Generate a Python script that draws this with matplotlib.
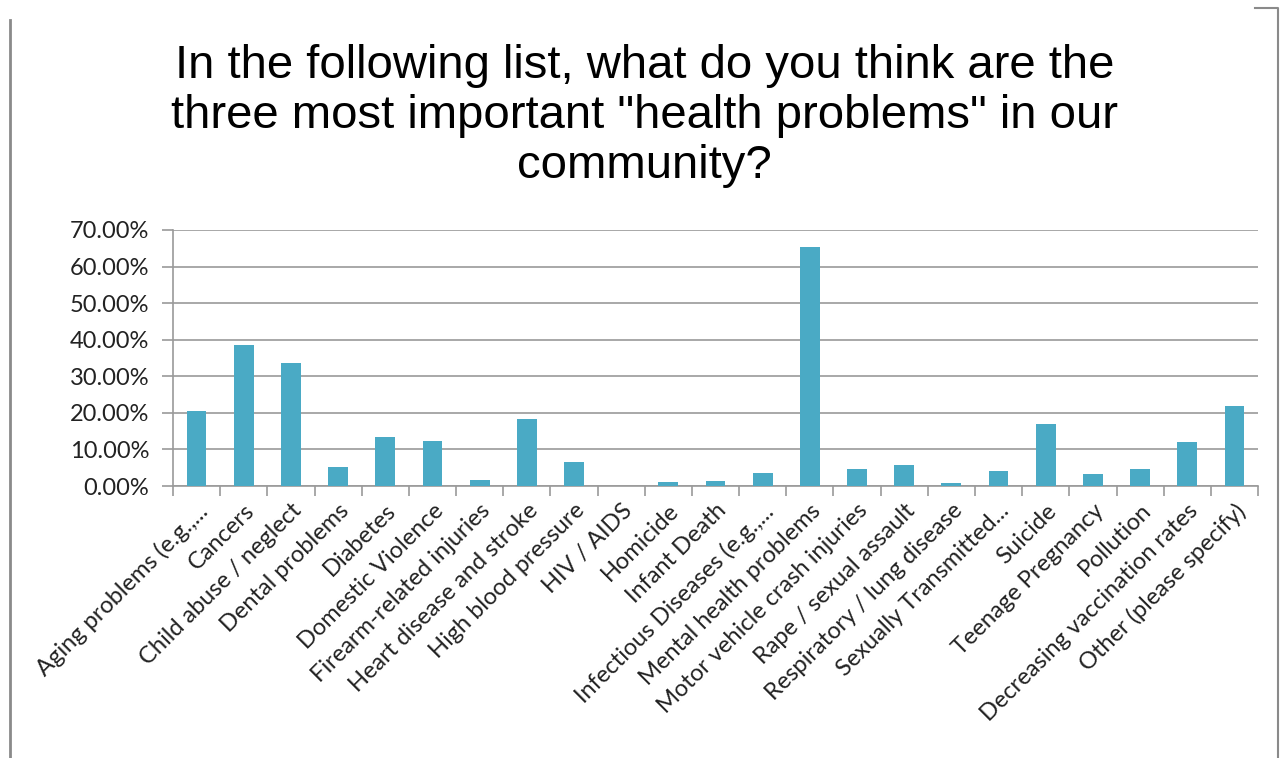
import matplotlib.pyplot as plt
from matplotlib.lines import Line2D
from matplotlib.ticker import FuncFormatter, FixedLocator

categories = [
    "Aging problems (e.g.,...", "Cancers", "Child abuse / neglect",
    "Dental problems", "Diabetes", "Domestic Violence",
    "Firearm-related injuries", "Heart disease and stroke",
    "High blood pressure", "HIV / AIDS", "Homicide", "Infant Death",
    "Infectious Diseases (e.g.,...", "Mental health problems",
    "Motor vehicle crash injuries", "Rape / sexual assault",
    "Respiratory / lung disease", "Sexually Transmitted...", "Suicide",
    "Teenage Pregnancy", "Pollution", "Decreasing vaccination rates",
    "Other (please specify)",
]
percent = [
    20.5, 38.6, 33.5, 5.1, 13.4, 12.4, 1.6, 18.3, 6.5, 0.0, 1.2, 1.5,
    3.5, 65.3, 4.7, 5.7, 0.9, 4.0, 17.0, 3.3, 4.7, 12.1, 21.9,
]
title = ('In the following list, what do you think are the\n'
         'three most important "health problems" in our\n'
         'community?')

bar_color = "#4aaac5"
grid_color = "#9a9a9a"
label_font = ["Lato", "DejaVu Sans"]

fig = plt.figure(figsize=(12.87, 7.58), dpi=100)
ax = fig.add_axes([0.1344, 0.3588, 0.8431, 0.3378])

x = range(len(categories))
ax.bar(x, percent, width=0.42, color=bar_color, zorder=3)

ax.set_ylim(0, 70)
ax.set_xlim(-0.5, len(categories) - 0.5)
ax.set_yticks(range(0, 71, 10))
ax.yaxis.set_major_formatter(FuncFormatter(lambda v, _: f"{v:.2f}%"))
ax.yaxis.grid(True, color=grid_color, linewidth=1.2, zorder=0)

ax.set_xticks(list(x))
ax.set_xticklabels(categories, rotation=45, ha="right",
                   rotation_mode="anchor", family=label_font,
                   fontsize=17, color="#222222")
ax.tick_params(axis="x", length=0, pad=10)
# category separators below the axis
ax.xaxis.set_minor_locator(FixedLocator([i - 0.5 for i in range(len(categories) + 1)]))
ax.tick_params(axis="x", which="minor", length=7, color=grid_color, width=1.2)
ax.tick_params(axis="y", length=8, color=grid_color, width=1.2,
               labelsize=17, labelcolor="#222222", pad=9)
for lbl in ax.get_yticklabels():
    lbl.set_family(label_font)

for side in ["top", "right"]:
    ax.spines[side].set_visible(False)
for side in ["left", "bottom"]:
    ax.spines[side].set_color(grid_color)
    ax.spines[side].set_linewidth(1.2)

fig.text(0.501, 1 - 178 / 758, title, ha="center", va="baseline",
         fontsize=34, family="Liberation Sans", linespacing=1.17,
         multialignment="center")

# outer frame lines on both sides
fig.add_artist(Line2D([10 / 1287, 10 / 1287], [0, 1 - 20 / 758],
                      color="#8a8a8a", linewidth=2))
fig.add_artist(Line2D([1255 / 1287, 1278 / 1287, 1278 / 1287],
                      [1 - 8 / 758, 1 - 8 / 758, 0],
                      color="#8a8a8a", linewidth=1.5))

fig.savefig("out.png", dpi=100)
